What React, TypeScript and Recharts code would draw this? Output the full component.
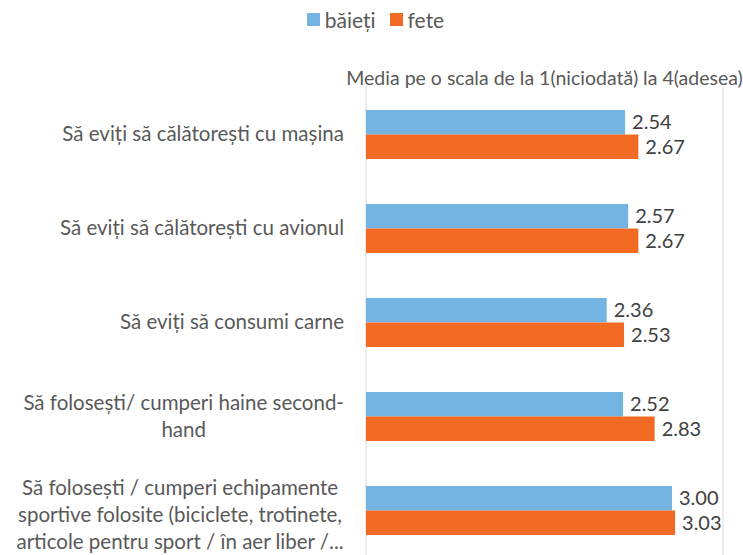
import React from 'react';
import { BarChart, Bar, XAxis, YAxis, CartesianGrid, Legend, LabelList } from 'recharts';

const categories = [
  'Să eviți să călătorești cu mașina',
  'Să eviți să călătorești cu avionul',
  'Să eviți să consumi carne',
  'Să folosești/ cumperi haine second-\nhand',
  'Să folosești / cumperi echipamente\nsportive folosite (biciclete, trotinete,\narticole pentru sport / în aer liber /...',
];
const baieti = [2.54, 2.57, 2.36, 2.52, 3.0];
const fete = [2.67, 2.67, 2.53, 2.83, 3.03];
const xTicks = [0, 0.5, 1, 1.5, 2, 2.5, 3, 3.5];
const axisTitle = 'Media pe o scala de la 1(niciodată) la 4(adesea)';

const data = categories.map((name, i) => ({ name, baieti: baieti[i], fete: fete[i] }));

const BLUE = '#74B4E3';
const ORANGE = '#F26A24';
const TEXT = '#595959';
const FONT = 'Lato, "Open Sans", sans-serif';
const TICK_SIZE = 20.5;
const LINE_H = 27;

let measureCtx: CanvasRenderingContext2D | null = null;
const measure = (s: string) => {
  if (!measureCtx) {
    measureCtx = document.createElement('canvas').getContext('2d');
  }
  if (!measureCtx) return s.length * 9;
  measureCtx.font = `${TICK_SIZE}px ${FONT}`;
  return measureCtx.measureText(s).width;
};

// multi-line labels: lines centred on each other, block right-aligned
const CategoryTick = (props: any) => {
  const { x, y, payload } = props;
  const lines: string[] = String(payload.value).split('\n');
  const widest = Math.max(...lines.map(measure));
  const cx = x - widest / 2;
  const startY = y - ((lines.length - 1) * LINE_H) / 2 + (lines.length > 2 ? 5 : 0);
  return (
    <g>
      {lines.map((line, i) => (
        <text
          key={i}
          x={cx}
          y={startY + i * LINE_H}
          dy="0.35em"
          textAnchor="middle"
          fill={TEXT}
          fontSize={TICK_SIZE}
          fontFamily={FONT}
        >
          {line}
        </text>
      ))}
    </g>
  );
};

const renderLegend = () => (
  <div
    style={{
      display: 'flex',
      justifyContent: 'center',
      alignItems: 'center',
      height: 30,
      paddingLeft: 28,
      fontFamily: FONT,
      fontSize: 21,
      color: TEXT,
    }}
  >
    {[
      { label: 'băieți', color: BLUE },
      { label: 'fete', color: ORANGE },
    ].map((item) => (
      <div key={item.label} style={{ display: 'flex', alignItems: 'center', margin: '0 7px' }}>
        <span style={{ width: 13, height: 13, background: item.color, marginRight: 5, display: 'inline-block' }} />
        <span>{item.label}</span>
      </div>
    ))}
  </div>
);

const AxisTitle = (props: any) => {
  const { viewBox } = props;
  return (
    <text
      x={viewBox.x + viewBox.width / 2}
      y={viewBox.y + viewBox.height - 2}
      textAnchor="middle"
      fill={TEXT}
      fontSize={19.5}
      fontFamily={FONT}
    >
      {axisTitle}
    </text>
  );
};

export default function App() {
  return (
    <div style={{ position: 'absolute', left: 0, top: 0, width: 743, height: 555, overflow: 'hidden', background: '#fff' }}>
      <BarChart
        width={743}
        height={570}
        data={data}
        layout="vertical"
        margin={{ top: 4, right: 20, bottom: 13, left: 0 }}
        barGap={0}
        barSize={24.5}
      >
        <Legend verticalAlign="top" height={30} content={renderLegend} />
        <CartesianGrid horizontal={false} stroke="#D9D9D9" strokeWidth={1} />
        <XAxis
          type="number"
          orientation="top"
          domain={[0, 3.5]}
          ticks={xTicks}
          height={53}
          tick={false}
          tickLine={false}
          axisLine={false}
          label={<AxisTitle />}
        />
        <YAxis
          type="category"
          dataKey="name"
          width={366}
          tickLine={false}
          axisLine={false}
          tickSize={0}
          tickMargin={22}
          tick={<CategoryTick />}
          interval={0}
        />
        <Bar dataKey="baieti" name="băieți" fill={BLUE} isAnimationActive={false}>
          <LabelList
            dataKey="baieti"
            position="right"
            offset={7}
            fill="#404040"
            fontSize={20}
            fontFamily={FONT}
            formatter={(v: any) => Number(v).toFixed(2)}
          />
        </Bar>
        <Bar dataKey="fete" name="fete" fill={ORANGE} isAnimationActive={false}>
          <LabelList
            dataKey="fete"
            position="right"
            offset={7}
            fill="#404040"
            fontSize={20}
            fontFamily={FONT}
            formatter={(v: any) => Number(v).toFixed(2)}
          />
        </Bar>
      </BarChart>
    </div>
  );
}
